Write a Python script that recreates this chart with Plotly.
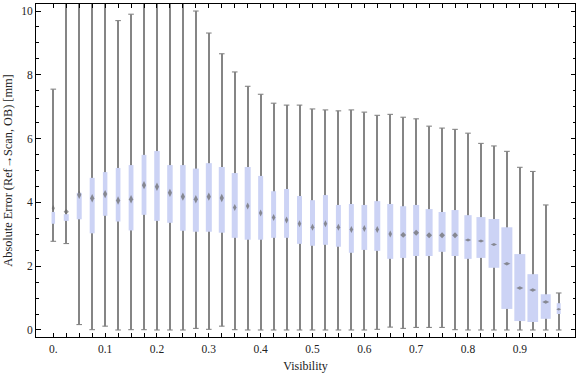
import plotly.graph_objects as go

# ---- data ----
visibility = [i * 0.025 for i in range(40)]
whisker_min = [2.78, 2.71, 0.17, 0.01, 0.12, 0.00, 0.01, 0.01, 0.00, 0.00,
               0.00, 0.05, 0.02, 0.12, 0.01, 0.00, 0.00, 0.00, 0.00, 0.00,
               0.00, 0.00, 0.00, 0.00, 0.00, 0.02, 0.09, 0.05, 0.08, 0.08,
               0.08, 0.01, 0.00, 0.00, 0.00, 0.00, 0.00, 0.00, 0.00, 0.00]
q1 = [3.33, 3.42, 3.47, 3.03, 3.58, 3.40, 3.12, 3.61, 3.42, 3.36,
      3.11, 3.08, 3.08, 3.05, 2.89, 2.83, 2.83, 2.89, 2.89, 2.70,
      2.64, 2.67, 2.61, 2.42, 2.51, 2.48, 2.23, 2.26, 2.32, 2.32,
      2.45, 2.32, 2.23, 2.26, 1.95, 0.66, 0.28, 0.25, 0.35, 0.50]
median = [3.82, 3.71, 4.24, 4.13, 4.26, 4.06, 4.10, 4.54, 4.49, 4.30,
          4.18, 4.10, 4.18, 4.14, 3.84, 3.89, 3.67, 3.53, 3.45, 3.33,
          3.22, 3.33, 3.22, 3.15, 3.18, 3.15, 3.01, 2.98, 3.05, 2.97,
          2.97, 2.97, 2.82, 2.79, 2.68, 2.08, 1.32, 1.25, 0.88, 0.65]
q3 = [3.70, 3.63, 4.30, 4.77, 4.95, 5.08, 5.17, 5.49, 5.61, 5.17,
      5.17, 5.06, 5.23, 5.11, 4.92, 5.11, 4.83, 4.35, 4.42, 4.20,
      4.07, 4.23, 3.92, 3.95, 3.92, 4.04, 3.95, 3.88, 3.92, 3.79,
      3.70, 3.76, 3.60, 3.54, 3.48, 3.22, 2.38, 1.75, 1.12, 0.84]
whisker_max = [7.55, 12.0, 12.5, 12.8, 13.0, 9.70, 9.90, 12.5, 12.2, 10.28,
               10.31, 10.00, 9.31, 8.66, 8.09, 7.64, 7.39, 7.11, 7.05, 7.05,
               6.93, 6.90, 6.87, 6.90, 6.83, 6.73, 6.76, 6.67, 6.62, 6.39,
               6.33, 6.29, 6.17, 5.85, 5.77, 5.60, 5.10, 4.97, 3.92, 1.16]
tick_labels = ["0.", "0.1", "0.2", "0.3", "0.4", "0.5", "0.6", "0.7", "0.8", "0.9"]

# ---- styles ----
box_width_px = [3.5, 5, 5, 5, 4.5, 4.7, 4.8, 4.8, 5.5, 5.5,
                5.5, 6, 6, 6, 6, 6, 5, 5, 5, 5,
                5, 5, 5, 5, 5.7, 6, 6, 6, 6, 7,
                7, 7, 7.3, 9, 10.7, 11, 11, 10.7, 10, 4]
med_symbol = (["diamond-tall"] + ["diamond"] + ["diamond-tall"] * 25 +
              ["diamond"] * 5 + ["diamond-wide"] * 8)
med_size = ([4.5, 4] + [6] * 12 + [5] * 13 + [4.5] * 5 + [4.5] * 3 + [5] * 4 + [3.5])

px_per_step = 12.96
step = 0.025
box_width = [w / px_per_step * step for w in box_width_px]

GRAY = "#858585"
FILL = "#ccd3f5"
FONT = "Liberation Serif"

fig = go.Figure()

# whiskers (thin bars, drawn below boxes)
fig.add_trace(go.Bar(
    x=visibility, base=whisker_min,
    y=[hi - lo for lo, hi in zip(whisker_min, whisker_max)],
    width=1.0 / px_per_step * step,
    marker=dict(color=GRAY, line=dict(width=0)),
    hoverinfo="skip", showlegend=False))

# boxes
fig.add_trace(go.Bar(
    x=visibility, base=q1,
    y=[b - a for a, b in zip(q1, q3)],
    width=box_width,
    marker=dict(color=FILL, line=dict(width=0)),
    showlegend=False))

# whisker caps
fig.add_trace(go.Scatter(
    x=visibility + visibility, y=whisker_min + whisker_max,
    mode="markers",
    marker=dict(symbol="line-ew", size=4, line=dict(color=GRAY, width=1.1)),
    cliponaxis=False, hoverinfo="skip", showlegend=False))

# medians
fig.add_trace(go.Scatter(
    x=visibility, y=median, mode="markers",
    marker=dict(symbol=med_symbol, size=med_size, color="#686868",
                line=dict(width=0)),
    showlegend=False))

x_lo = -17.3 / px_per_step * step
x_hi = visibility[-1] + 16.3 / px_per_step * step

fig.update_layout(
    width=576, height=377,
    margin=dict(l=36, r=1, t=4, b=40),
    paper_bgcolor="white", plot_bgcolor="white",
    barmode="overlay",
    font=dict(family=FONT, size=11.5, color="#222222"),
    xaxis=dict(
        range=[x_lo, x_hi],
        tickmode="array",
        tickvals=visibility,
        ticktext=[tick_labels[i // 4] if i % 4 == 0 else "" for i in range(len(visibility))],
        ticks="inside", ticklen=4, tickwidth=1, tickcolor="black",
        showline=True, linecolor="black", linewidth=1, mirror="ticks",
        showgrid=False, zeroline=False,
        ticklabelstandoff=1,
        title=dict(text="Visibility", font=dict(family=FONT, size=12), standoff=7),
    ),
    yaxis=dict(
        range=[-0.22, 10.22],
        tickmode="array", tickvals=[0, 2, 4, 6, 8, 10],
        ticks="inside", ticklen=4.5, tickwidth=1, tickcolor="black",
        minor=dict(tickmode="array",
                   tickvals=[v * 0.5 for v in range(21) if v % 4 != 0],
                   ticks="inside", ticklen=2.5, tickwidth=1, tickcolor="black"),
        showline=True, linecolor="black", linewidth=1, mirror="ticks",
        showgrid=False, zeroline=False,
        title=dict(text="Absolute Error (Ref\u2192Scan, OB) [mm]",
                   font=dict(family=FONT, size=12.3), standoff=5),
    ),
)

fig.write_html("out.html",
               config={"displayModeBar": False},
               post_script="document.body.style.margin='0';document.body.style.padding='0';")
